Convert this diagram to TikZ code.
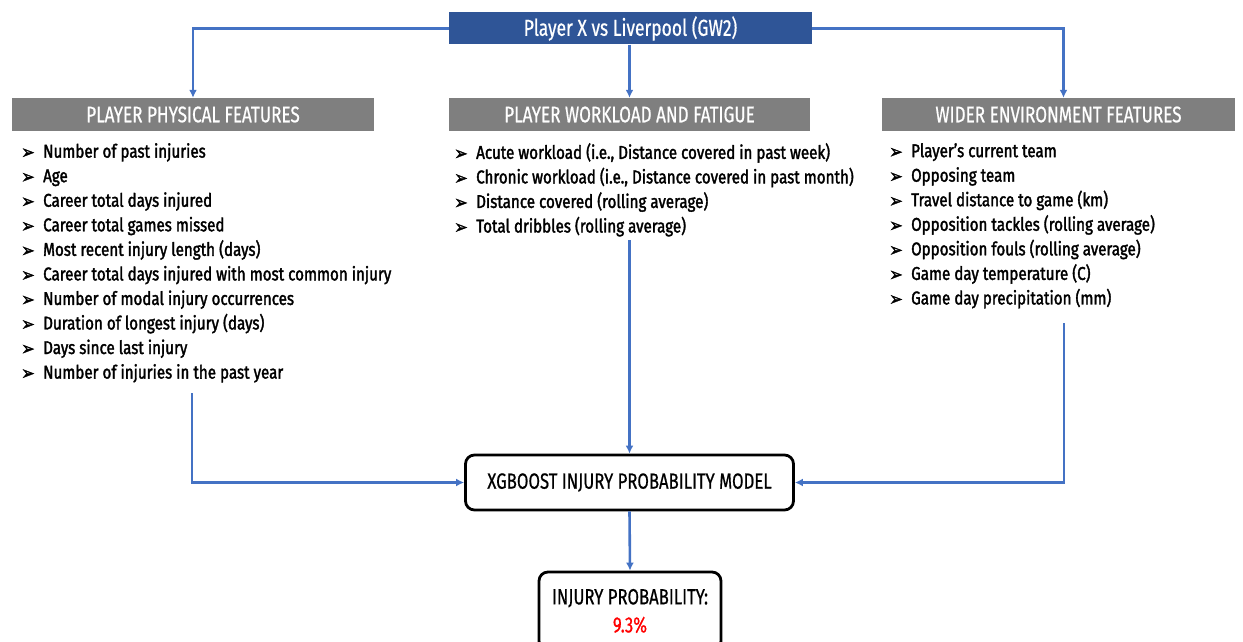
\documentclass[tikz,border=0pt]{standalone}
\usepackage{fontspec}
\setmainfont{Fira Sans}[FakeStretch=0.82, FakeBold=1.8]
\newfontfamily\hdrfont{Fira Sans}[FakeStretch=0.76, FakeBold=0.6]
\newfontfamily\symfont{DejaVu Sans}[FakeStretch=0.85, FakeBold=1.5]
\usetikzlibrary{arrows.meta}
\definecolor{gwblue}{HTML}{2F5597}
\definecolor{flowblue}{HTML}{4472C4}
\definecolor{hdrgray}{HTML}{7F7F7F}
\newcommand{\itm}[1]{\makebox[22pt][l]{\raisebox{-1pt}{\symfont\fontsize{19}{19}\selectfont ➢}}#1}

\begin{document}
\begin{tikzpicture}[x=1pt, y=-1pt,
    flow/.style={draw=flowblue, line width=2.6pt, -{Latex[length=8pt,width=8pt]}},
    topbox/.style={fill=gwblue, text=white, minimum height=32pt, inner sep=0pt, font=\hdrfont\fontsize{23}{26}\selectfont},
    hdr/.style={fill=hdrgray, text=white, minimum height=33pt, inner sep=0pt, font=\hdrfont\fontsize{22.5}{24}\selectfont},
    featlist/.style={anchor=north west, inner sep=0pt, align=left, font=\fontsize{18.5}{24.55}\selectfont},
    modelbox/.style={draw=black, line width=2.8pt, rounded corners=9pt, fill=white, inner sep=0pt, align=center, font=\hdrfont\fontsize{22}{28}\selectfont}]
  \useasboundingbox (0,0) rectangle (1243,642);

  \node[topbox, minimum width=363pt] (match) at (630.5,28.5) {Player X vs Liverpool (GW2)};

  \node[hdr, minimum width=362pt] (phys) at (193,114.5) {PLAYER PHYSICAL FEATURES};
  \node[hdr, minimum width=361pt] (work) at (629.5,114.5) {PLAYER WORKLOAD AND FATIGUE};
  \node[hdr, minimum width=353pt] (envi) at (1058.5,114.5) {WIDER ENVIRONMENT FEATURES};

  \node[featlist] (physlist) at (21,143) {%
    \itm{Number of past injuries}\\
    \itm{Age}\\
    \itm{Career total days injured}\\
    \itm{Career total games missed}\\
    \itm{Most recent injury length (days)}\\
    \itm{Career total days injured with most common injury}\\
    \itm{Number of modal injury occurrences}\\
    \itm{Duration of longest injury (days)}\\
    \itm{Days since last injury}\\
    \itm{Number of injuries in the past year}};
  \node[featlist] (worklist) at (454,143) {%
    \itm{Acute workload (i.e., Distance covered in past week)}\\
    \itm{Chronic workload (i.e., Distance covered in past month)}\\
    \itm{Distance covered (rolling average)}\\
    \itm{Total dribbles (rolling average)}};
  \node[featlist] (envilist) at (889,143) {%
    \itm{Player’s current team}\\
    \itm{Opposing team}\\
    \itm{Travel distance to game (km)}\\
    \itm{Opposition tackles (rolling average)}\\
    \itm{Opposition fouls (rolling average)}\\
    \itm{Game day temperature (C)}\\
    \itm{Game day precipitation (mm)}};

  \node[modelbox, minimum width=328pt, minimum height=55pt] (model) at (629.5,482.5) {XGBOOST INJURY PROBABILITY MODEL};
  \node[modelbox, minimum width=182pt, minimum height=78pt] (prob) at (630,611) {INJURY PROBABILITY:\\ \textcolor{red}{9.3\%}};

  % match to feature groups
  \draw[flow] (match.west) -| (phys.north);
  \draw[flow] (match.south -| work.north) -- (work.north);
  \draw[flow] (match.east) -| ([xshift=5pt]envi.north);

  % feature groups to model
  \coordinate (physend) at (192,393);
  \coordinate (workend) at (629.5,240);
  \coordinate (enviend) at (1064,323);
  \draw[flow] (physend) |- (model.west);
  \draw[flow] (workend) -- (model.north);
  \draw[flow] (enviend) |- (model.east);
  \draw[flow] (model.south) -- (prob.north);
\end{tikzpicture}
\end{document}
